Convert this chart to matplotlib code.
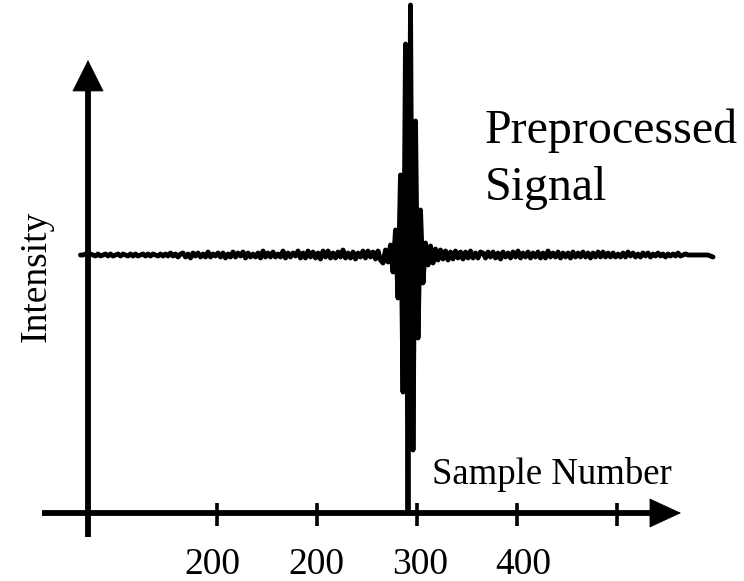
import numpy as np
import matplotlib
matplotlib.use("Agg")
import matplotlib.pyplot as plt

# ---------------- data ----------------
intensity_left = [
    0, 0, 1, -1, 1, 0, -1, 1, -1, 0, 1, -1, 1, -1, 0, 1, -1, 1, 0, -1,
    1, -1, 1, -1, 0, 1, -1, 1, -1, 1, 0, -1, 1, -1, 1, -1, 2, -1, 1, -2, 1,
    2, -2, 1, -3, 2, -1, 2, -2, 1, -2, 3, -2, 1, -1, 2, -2, 2, -3, 1, -2,
    3, -2, 2, -1, 3, -3, 2, -2, 1, -2, 2, -3, 4, -2, 2, -2, 3, -2, 1, -2,
    4, -3, 2, -2, 2, -1, 4, -3,
    2, -3, 4, -2, 3, -3, 2, -4, 4, -2, 4, -3, 2, -3, 3, -2, 5, -3, 2, -3,
    3, -4, 2, -2, 4, -3, 4, -2, 3, -4, 4, -5,
]
intensity_burst = [
    -8, 5, -7, 10, -17, 25, -43, 80, -137, 211, -258, 250, -195, 134, -83,
    45, -28, 12, -10, 9, -8, 6, -5,
]
intensity_right = [
    5, -4, 4, -5, 3, -4, 4, -3, 3, -4, 3, -3, 4, -3, 2, -3, 3,
    2, -3, 3, -2, 3, -3, 2, -4, 3, -2, 2, -3, 3, -2, 4, -3, 2, -2, 3, -3,
    2, -2, 3, -3, 2, -3, 4, -2, 2, -2, 3, -3, 2, -2, 2, -3, 3, -2, 2, -2,
    3, -2, 2, -3, 2, -2, 3, -2, 3, -2,
    2, -2, 2, -2, 1, -2, 2, -2, 3, -1, 2, -2, 1, -2, 2, -1, 2, -2, 1, -1,
    2, -1, 1, -2, 1, -1, 1, -1, 2, -1, 0, 1, 0, 0, 0, 0, 0, 0, 0, 0, 0, -1, -2,
]
tick_samples = [54.6, 94.6, 134.6, 174.6, 214.6]
tick_labels = ["200", "200", "300", "400"]

intensity = np.array(intensity_left + intensity_burst + intensity_right, dtype=float)
samples = np.arange(len(intensity))

# ---------------- figure ----------------
W, H = 744, 581
fig = plt.figure(figsize=(W / 100, H / 100), dpi=100)
ax = fig.add_axes([0, 0, 1, 1])
ax.set_xlim(-32.2, 265.4)
ax.set_ylim(-326, 255)
ax.axis("off")

def px(x, y):
    return (x / W, 1 - y / H)

# signal
ax.plot(samples, intensity, color="black", lw=3.5,
        solid_joinstyle="round", solid_capstyle="round", zorder=3)

# axis geometry (data units)
x_axis_y = -258
y_axis_x = 3.0
axis_lw = 4.2

# x axis
ax.plot([-15.4, 229.0], [x_axis_y, x_axis_y], color="black", lw=axis_lw,
        solid_capstyle="butt", zorder=2)
ax.annotate("", xy=(240.2, x_axis_y), xytext=(224.0, x_axis_y),
            arrowprops=dict(arrowstyle="-|>,head_length=21.6,head_width=10",
                            mutation_scale=1, lw=0.6, color="black",
                            shrinkA=0, shrinkB=0), zorder=2)
# y axis
ax.plot([y_axis_x, y_axis_x], [-282, 166], color="black", lw=axis_lw,
        solid_capstyle="butt", zorder=2)
ax.annotate("", xy=(y_axis_x, 195), xytext=(y_axis_x, 150),
            arrowprops=dict(arrowstyle="-|>,head_length=21.6,head_width=10.8",
                            mutation_scale=1, lw=0.6, color="black",
                            shrinkA=0, shrinkB=0), zorder=2)

# ticks
ax.vlines(tick_samples, -271, -248, color="black", lw=2.6, zorder=2)

serif = "Liberation Serif"
label_x = [212, 316, 420, 523]
for lx, lab in zip(label_x, tick_labels):
    fig.text(*px(lx, 574), lab, ha="center", va="baseline",
             fontsize=27, family=serif)

fig.text(*px(432, 484), "Sample Number", ha="left", va="baseline",
         fontsize=26.5, family=serif)
fig.text(*px(485, 143), "Preprocessed", ha="left", va="baseline",
         fontsize=34.5, family=serif)
fig.text(*px(485, 200), "Signal", ha="left", va="baseline",
         fontsize=34.5, family=serif)
fig.text(*px(36, 276), "Intensity", ha="center", va="center", rotation=90,
         fontsize=27, family=serif)

fig.savefig("out.png", dpi=100)
